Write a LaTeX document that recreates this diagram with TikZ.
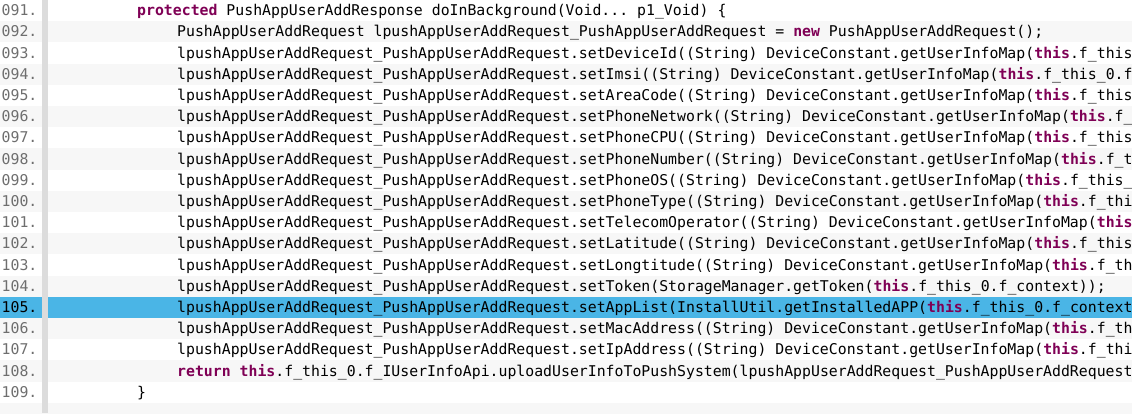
\documentclass[tikz,border=0pt]{standalone}
\usepackage{fontspec}
\usepackage{xcolor}
\setmonofont{DejaVu Sans Mono}
\usepackage{tikz}
\usetikzlibrary{backgrounds,positioning}

\definecolor{kwcol}{HTML}{7F0055}
\definecolor{numcol}{HTML}{6E6E6E}
\definecolor{rowgray}{HTML}{F7F7F7}
\definecolor{barcol}{HTML}{DCDCDC}
\definecolor{hlblue}{HTML}{4AB5E6}

\newcommand{\kwd}[1]{{\bfseries\color{kwcol}#1}}
\newcommand{\lreq}{lpushAppUserAddRequest\_PushAppUserAddRequest}
\newcommand{\dcmap}{(String) DeviceConstant.getUserInfoMap(}

\begin{document}
\begin{tikzpicture}[x=1pt,y=-1pt,
code/.style={anchor=base west, inner sep=0pt, text=black, font=\ttfamily\fontsize{14.83}{17}\selectfont},
lnum/.style={code, text=numcol}]

    \useasboundingbox (0,0) rectangle (1132,413);
    \clip (0,0) rectangle (1132,413);

    % stripes, highlighted line and gutter bar
    \foreach \i in {1,3,...,19}
        \fill[rowgray] (0,{21.2*\i}) rectangle (1132,{21.2*(\i+1)});
    \fill[hlblue] (0,{21.2*14}) rectangle (1132,{21.2*15});
    \fill[barcol] (42,0) rectangle (47.5,413);

    % line numbers
    \foreach \n [count=\i from 0] in {091,092,093,094,095,096,097,098,099,100,101,102,103,104,105,106,107,108,109}
        \node[lnum] (n\n) at (1.5,{21.2*\i+15.7}) {\ifnum\i=14 \color{black}\fi\n.};

    % code
    \node[code] (c091) at (137,15.7) {\kwd{protected} PushAppUserAddResponse doInBackground(Void... p1\_Void) \{};
    \foreach \t [count=\i from 1] in {
        PushAppUserAddRequest \lreq{} = \kwd{new} PushAppUserAddRequest();,
        \lreq.setDeviceId(\dcmap\kwd{this}.f\_this,
        \lreq.setImsi(\dcmap\kwd{this}.f\_this\_0.f,
        \lreq.setAreaCode(\dcmap\kwd{this}.f\_this,
        \lreq.setPhoneNetwork(\dcmap\kwd{this}.f\_,
        \lreq.setPhoneCPU(\dcmap\kwd{this}.f\_this,
        \lreq.setPhoneNumber(\dcmap\kwd{this}.f\_t,
        \lreq.setPhoneOS(\dcmap\kwd{this}.f\_this\_,
        \lreq.setPhoneType(\dcmap\kwd{this}.f\_thi,
        \lreq.setTelecomOperator(\dcmap\kwd{this},
        \lreq.setLatitude(\dcmap\kwd{this}.f\_this,
        \lreq.setLongtitude(\dcmap\kwd{this}.f\_th,
        \lreq.setToken(StorageManager.getToken(\kwd{this}.f\_this\_0.f\_context));,
        \lreq.setAppList(InstallUtil.getInstalledAPP(\kwd{this}.f\_this\_0.f\_context,
        \lreq.setMacAddress(\dcmap\kwd{this}.f\_th,
        \lreq.setIpAddress(\dcmap\kwd{this}.f\_thi,
        \kwd{return} \kwd{this}.f\_this\_0.f\_IUserInfoApi.uploadUserInfoToPushSystem(\lreq}
        \node[code] (c\i) at (177,{21.2*\i+15.7}) {\t};
    \node[code] (c109) at (137,{21.2*18+15.7}) {\}};
    %
\end{tikzpicture}
\end{document}
